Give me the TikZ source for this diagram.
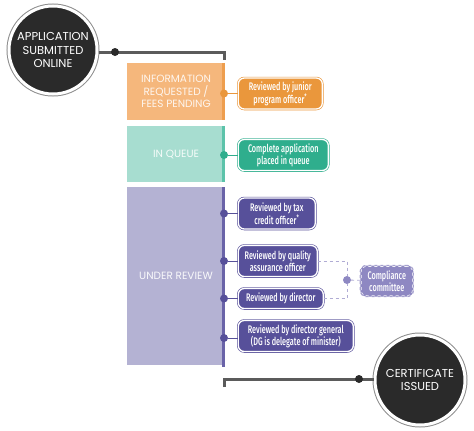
\documentclass[tikz,border=0pt]{standalone}
\usepackage{fontspec}
\setmainfont{Poppins}
\newfontfamily\condfont[FakeStretch=0.66]{Fira Sans Medium}
\usetikzlibrary{calc}

\definecolor{infobox}{HTML}{F5B77C}
\definecolor{infoedge}{HTML}{EE9E4E}
\definecolor{infotag}{HTML}{EA973C}
\definecolor{queuebox}{HTML}{A7DDD0}
\definecolor{queueedge}{HTML}{5CC3AA}
\definecolor{queuetag}{HTML}{2FAE8D}
\definecolor{reviewbox}{HTML}{B4B2D3}
\definecolor{reviewedge}{HTML}{6A63A8}
\definecolor{reviewtag}{HTML}{57509A}
\definecolor{committeetag}{HTML}{8E88C2}
\definecolor{endfill}{HTML}{2A2A2A}
\definecolor{flowline}{HTML}{5B5B5B}

\tikzset{
  stagebox/.style={minimum width=98pt, inner sep=0pt, align=center,
    font=\fontsize{10.5}{12.5}\selectfont},
  tagbox/.style={rounded corners=6pt, draw=#1, double=white, double distance=1.3pt,
    line width=0.6pt, fill=#1, text=white, align=center, anchor=west,
    font=\condfont\fontsize{11}{12}\selectfont, inner sep=0pt, minimum height=31pt},
  stagedot/.style={circle, fill=#1, inner sep=0pt, minimum size=8pt},
  endpoint/.style={circle, fill=endfill, draw=white, line width=3pt, minimum size=88pt,
    inner sep=0pt, text=white, align=center, font=\fontsize{11.5}{13.5}\selectfont,
    preaction={draw=flowline!70, line width=5pt}},
  flowdot/.style={circle, fill=endfill, inner sep=0pt, minimum size=8pt},
}

\begin{document}
\begin{tikzpicture}[x=1pt, y=-1pt]
  \useasboundingbox (0,0) rectangle (474,431);

  % stages
  \node[stagebox, fill=infobox, minimum height=57pt, text=white!88!infobox] (info) at (176,91.5)
    {INFORMATION\\REQUESTED /\\FEES PENDING};
  \node[stagebox, fill=queuebox, minimum height=56pt, text=white!90!queuebox] (queue) at (176,154)
    {IN QUEUE};
  \node[stagebox, fill=reviewbox, minimum height=178pt, text=white!92!reviewbox] (review) at (176,276)
    {UNDER REVIEW};
  \draw[infoedge, line width=3pt] ([xshift=-1.5pt]info.north east) -- ([xshift=-1.5pt]info.south east);
  \draw[queueedge, line width=3pt] ([xshift=-1.5pt]queue.north east) -- ([xshift=-1.5pt]queue.south east);
  \draw[reviewedge, line width=3pt] (223.5,187) -- (223.5,367);

  % start and end
  \node[endpoint] (start) at (53,50) {APPLICATION\\SUBMITTED\\ONLINE};
  \node[endpoint, minimum size=90pt] (issued) at (420,380) {CERTIFICATE\\ISSUED};
  \coordinate (topturn) at (224,52);
  \coordinate (botturn) at (224,379);
  \draw[flowline, line width=3pt] (start.east |- topturn) -- (topturn) -- ++(0,8);
  \draw[flowline, line width=3pt] ([yshift=-8pt]botturn) -- (botturn) -- (issued.west |- botturn);
  \node[flowdot] (startdot) at (115,52) {};
  \node[flowdot] (issueddot) at (359,379) {};

  % tasks
  \node[tagbox=infotag, minimum width=84pt] (junior) at (238,93.5)
    {Reviewed by junior\\program officer\textsuperscript{*}};
  \node[tagbox=queuetag, minimum width=90pt] (placed) at (238,155)
    {Complete application\\placed in queue};
  \node[tagbox=reviewtag, minimum width=77pt] (tax) at (238,213.5)
    {Reviewed by tax\\credit officer\textsuperscript{*}};
  \node[tagbox=reviewtag, minimum width=79pt] (quality) at (238,261)
    {Reviewed by quality\\assurance officer};
  \node[tagbox=reviewtag, minimum width=85pt, minimum height=20pt] (director) at (238,298.5)
    {Reviewed by director};
  \node[tagbox=reviewtag, minimum width=115pt] (general) at (238,336)
    {Reviewed by director general\\(DG is delegate of minister)};
  \node[tagbox=committeetag, draw=white, double=committeetag!80, dashed, minimum width=53pt]
    (committee) at (360,281) {Compliance\\committee};

  % connectors
  \node[stagedot=infotag] (juniordot) at (224,93.5) {};
  \node[stagedot=queuetag] (placeddot) at (224,155) {};
  \node[stagedot=reviewtag] (taxdot) at (224,213.5) {};
  \node[stagedot=reviewtag] (qualitydot) at (224,261) {};
  \node[stagedot=reviewtag] (directordot) at (224,298.5) {};
  \node[stagedot=reviewtag] (generaldot) at (224,338) {};
  \draw[infotag, line width=0.8pt] (juniordot) -- (junior);
  \draw[queuetag, line width=0.8pt] (placeddot) -- (placed);
  \foreach \task in {tax, quality, director, general}
    \draw[reviewtag, line width=0.8pt] (\task dot) -- (\task.west |- \task dot);

  \node[stagedot=committeetag] (committeedot) at (347,280) {};
  \draw[committeetag!70, line width=0.8pt, dashed] (quality.east) -| (committeedot);
  \draw[committeetag!70, line width=0.8pt, dashed] (director.east) -| (committeedot);
  \draw[committeetag!70, line width=0.8pt, dashed] (committeedot) -- (committee);
\end{tikzpicture}
\end{document}
